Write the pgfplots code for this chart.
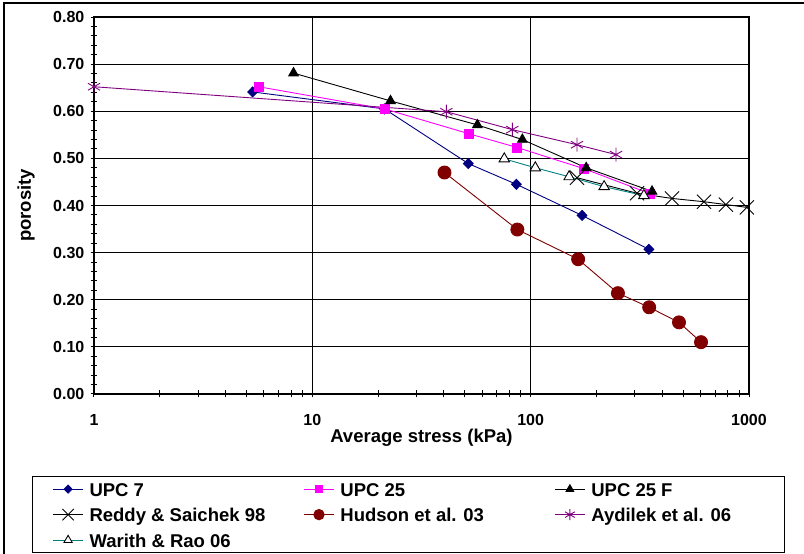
\documentclass[border=0pt]{standalone}
\usepackage{pgfplots}
\pgfplotsset{compat=1.18}
\usepackage{fontspec}
\setmainfont{Liberation Sans}
\definecolor{navyc}{RGB}{0,0,128}
\definecolor{magc}{RGB}{255,0,255}
\definecolor{darkredc}{RGB}{128,0,0}
\definecolor{purp}{RGB}{128,0,128}
\definecolor{tealc}{RGB}{0,128,128}
\newcommand{\legtxt}[1]{\makebox[173pt][l]{#1}}
\begin{document}
\begin{tikzpicture}[x=1pt,y=1pt]
\useasboundingbox (0,0) rectangle (804,554);
\draw[line width=1.5pt] (4,-20) -- (4,551) -- (830,551);
\begin{axis}[
  at={(94pt,160pt)}, anchor=south west,
  scale only axis, width=655pt, height=377pt,
  xmode=log, xmin=1, xmax=1000, ymin=0, ymax=0.8,
  xtick={1,10,100,1000}, xticklabels={1,10,100,1000},
  minor xtick={2,3,4,5,6,7,8,9,20,30,40,50,60,70,80,90,200,300,400,500,600,700,800,900},
  ytick={0,0.1,0.2,0.3,0.4,0.5,0.6,0.7,0.8}, minor y tick num=4,
  yticklabel style={/pgf/number format/fixed, /pgf/number format/fixed zerofill, /pgf/number format/precision=2},
  /pgf/number format/assume math mode=true,
  tick pos=left, tick align=center,
  major tick length=7pt, minor tick length=7pt,
  every tick/.style={black, line width=1pt},
  xmajorgrids, ymajorgrids,
  major grid style={black, line width=0.9pt},
  axis line style={black, line width=1.3pt},
  ticklabel style={font=\fontsize{16}{16}\selectfont\bfseries, inner sep=0pt},
  xticklabel style={yshift=-17pt},
  yticklabel style={xshift=-6pt},
  xlabel={Average stress (kPa)},
  ylabel={porosity},
  label style={font=\fontsize{18.5}{20}\selectfont\bfseries},
  xlabel style={at={(axis description cs:0.5,0)}, anchor=base, yshift=-49pt, inner sep=0pt},
  ylabel style={at={(axis description cs:0,0.5)}, anchor=base, yshift=63pt, inner sep=0pt},
  clip=false,
  legend columns=3,
  legend style={at={(axis description cs:-0.09466,-0.2175)}, anchor=north west,
    draw=black, line width=1.3pt, inner xsep=20pt, inner ysep=3.5pt,
    font=\fontsize{18.5}{20}\selectfont\bfseries,
    row sep=7.5pt, column sep=0pt,
    nodes={inner sep=0pt, text height=16pt, text depth=2pt},
    /tikz/every odd column/.append style={column sep=6pt},
    /tikz/every even column/.append style={column sep=41pt}},
  legend image code/.code={\draw[mark repeat=2,mark phase=2,line width=0.9pt,/tikz/every mark/.append style={scale=0.8}] plot coordinates {(0pt,0pt) (15pt,0pt) (30pt,0pt)};},
]
\addplot[navyc, line width=0.9pt, mark=diamond*, mark size=5pt, mark options={solid, xscale=1.3}] coordinates {
(5.33,0.641) (21.4,0.605) (51.8,0.489) (86,0.445) (172,0.379) (348,0.307)};
\addlegendentry{\legtxt{UPC 7}}
\addplot[magc, line width=0.9pt, mark=square*, mark size=4.5pt, mark options={solid}] coordinates {
(5.68,0.652) (21.4,0.605) (52.4,0.552) (86.8,0.523) (175.8,0.478) (352,0.425)};
\addlegendentry{\legtxt{UPC 25}}
\addplot[black, line width=0.9pt, mark=triangle*, mark size=5.5pt, mark options={solid}] coordinates {
(8.2,0.681) (22.8,0.622) (57,0.571) (91.6,0.540) (179.6,0.480) (359.7,0.430)};
\addlegendentry{\legtxt{UPC 25 F}}
\addplot[black, line width=0.9pt, mark=x, mark size=10pt, mark options={solid}] coordinates {
(163,0.459) (307,0.426) (444,0.415) (622,0.408) (784,0.402) (977,0.396)};
\addlegendentry{\legtxt{Reddy \& Saichek 98}}
\addplot[darkredc, line width=0.9pt, mark=*, mark size=6.5pt, mark options={solid}] coordinates {
(40.3,0.470) (86.9,0.349) (165,0.286) (251,0.214) (349,0.184) (478,0.152) (603,0.110)};
\addlegendentry{\legtxt{Hudson et al. 03}}
\addplot[purp, line width=0.9pt, mark=asterisk, mark size=7pt, mark options={solid}] coordinates {
(1,0.652) (41.1,0.599) (82.4,0.561) (163,0.529) (246,0.508)};
\addlegendentry{\legtxt{Aydilek et al. 06}}
\addplot[tealc, line width=0.9pt, mark=triangle*, mark size=6pt, mark options={solid, draw=black, fill=white}] coordinates {
(75.7,0.499) (105,0.480) (150,0.461) (217,0.440) (330,0.421)};
\addlegendentry{\legtxt{Warith \& Rao 06}}
\end{axis}
\end{tikzpicture}
\end{document}
